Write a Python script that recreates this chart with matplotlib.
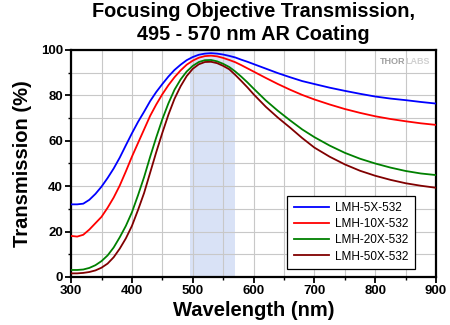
import matplotlib
matplotlib.use("Agg")
import matplotlib.pyplot as plt
from matplotlib.ticker import MultipleLocator

plt.rcParams['font.family'] = ['Liberation Sans', 'DejaVu Sans']

wl = [300, 310, 320, 330, 340, 350, 360, 370, 380, 390, 400, 410, 420, 430, 440, 450,
      460, 470, 480, 490, 500, 510, 520, 530, 540, 550, 560, 570, 580, 590, 600,
      620, 640, 660, 680, 700, 725, 750, 775, 800, 825, 850, 875, 900]
t_5x = [32.0, 32.0, 32.3, 34.0, 36.6, 39.8, 43.6, 47.8, 52.6, 58.0, 63.3, 68.3, 72.8, 77.5,
        81.5, 85.0, 88.3, 91.2, 93.5, 95.5, 96.9, 97.9, 98.4, 98.6, 98.4, 98.0, 97.4, 96.7,
        95.7, 94.8, 93.8, 91.8, 89.8, 88.0, 86.3, 85.0, 83.4, 82.0, 80.7, 79.5, 78.6, 77.9,
        77.1, 76.4]
t_10x = [18.1, 17.8, 18.6, 20.9, 23.7, 26.5, 30.5, 35.0, 40.3, 46.5, 53.0, 59.0, 65.0, 71.0,
         76.0, 80.5, 84.5, 88.0, 91.0, 93.5, 95.3, 96.6, 97.3, 97.5, 97.2, 96.5, 95.6, 94.6,
         93.3, 91.9, 90.5, 87.7, 85.0, 82.5, 80.2, 78.2, 76.0, 74.0, 72.3, 70.8, 69.6, 68.6,
         67.7, 67.0]
t_20x = [3.1, 3.1, 3.3, 4.0, 5.2, 7.0, 9.5, 13.0, 17.5, 22.5, 28.5, 36.0, 44.0, 53.0,
         61.5, 69.5, 76.5, 82.5, 87.0, 90.5, 93.0, 94.7, 95.5, 95.6, 95.0, 93.9, 92.5, 90.5,
         88.2, 85.7, 83.0, 77.8, 73.2, 69.0, 65.0, 61.6, 57.9, 54.7, 52.1, 50.0, 48.2, 46.7,
         45.6, 44.9]
t_50x = [1.6, 1.6, 1.8, 2.2, 2.9, 4.1, 5.9, 8.7, 12.5, 17.0, 22.5, 29.5, 37.0, 46.0,
         55.0, 63.5, 71.5, 78.5, 84.0, 88.5, 91.7, 93.7, 94.7, 94.8, 94.2, 93.0, 91.5, 89.0,
         86.3, 83.5, 80.5, 75.0, 70.2, 65.8, 61.2, 57.0, 53.0, 49.6, 46.8, 44.6, 42.8, 41.3,
         40.2, 39.3]
labels = ["LMH-5X-532", "LMH-10X-532", "LMH-20X-532", "LMH-50X-532"]
colors = ["#0000ff", "#ff0000", "#008000", "#800000"]
band = (495, 570)

fig = plt.figure(figsize=(4.5, 3.25), dpi=100)
ax = fig.add_axes([0.158, 0.1477, 0.811, 0.6985])

ax.axvspan(band[0], band[1], color="#d9e2f6", zorder=0, lw=0)
for y, lab, c in zip([t_5x, t_10x, t_20x, t_50x], labels, colors):
    ax.plot(wl, y, color=c, lw=1.3, label=lab, zorder=3)

ax.set_xlim(300, 900)
ax.set_ylim(0, 100)
ax.xaxis.set_major_locator(MultipleLocator(100))
ax.xaxis.set_minor_locator(MultipleLocator(50))
ax.yaxis.set_major_locator(MultipleLocator(20))
ax.yaxis.set_minor_locator(MultipleLocator(10))
ax.grid(True, which="both", color="#c8c8c8", lw=0.8, zorder=1)
ax.set_axisbelow(True)
for s in ax.spines.values():
    s.set_linewidth(1.6)
ax.tick_params(which="major", direction="out", length=4, width=1.3, labelsize=9.5, pad=2)
ax.tick_params(which="minor", direction="out", length=2.5, width=1.0)
for lbl in ax.get_xticklabels() + ax.get_yticklabels():
    lbl.set_fontweight("bold")

ax.set_xlabel("Wavelength (nm)", fontsize=14.5, fontweight="bold", labelpad=2.5)
ax.set_ylabel("Transmission (%)", fontsize=14.5, fontweight="bold", labelpad=6)
fig.text(0.563, 0.995, "Focusing Objective Transmission,\n495 - 570 nm AR Coating",
         ha="center", va="top", fontsize=14.3, fontweight="bold", linespacing=1.3)

ax.text(0.917, 0.95, "THOR", transform=ax.transAxes, ha="right", va="center",
        fontsize=6.5, fontweight="bold", color="#a0a0a0")
ax.text(0.917, 0.95, "LABS", transform=ax.transAxes, ha="left", va="center",
        fontsize=6.5, fontweight="bold", color="#d0d0d0")

leg = ax.legend(loc="lower right", bbox_to_anchor=(0.9425, 0.035), borderaxespad=0,
                fontsize=8.5, frameon=True, fancybox=False, edgecolor="black",
                framealpha=1, handlelength=3.0, handletextpad=0.5, borderpad=0.55,
                labelspacing=0.35)
leg.get_frame().set_linewidth(0.9)

fig.savefig("out.png", dpi=100)
